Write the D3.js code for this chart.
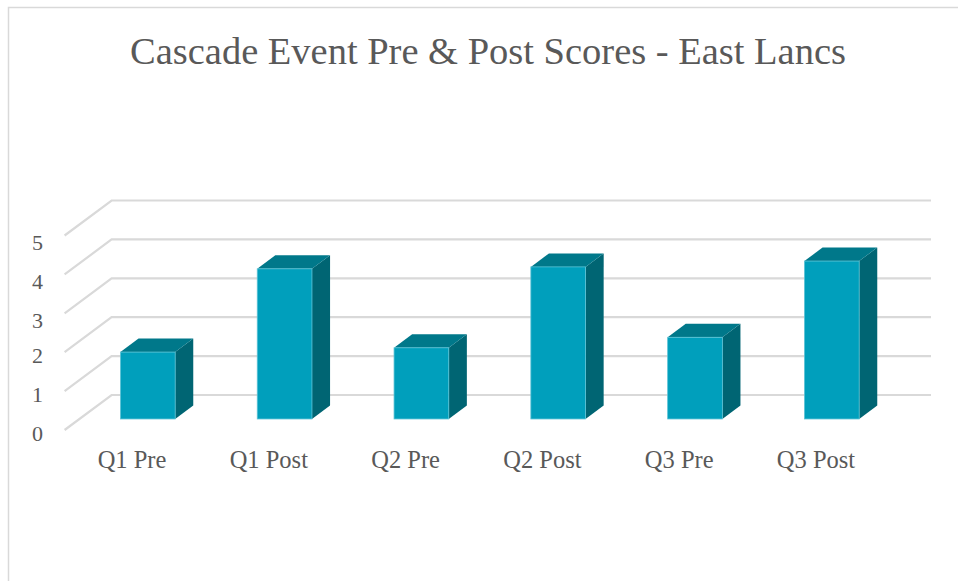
<!doctype html>
<html>
  <head>
    <meta charset="utf-8">
    <script src="https://cdn.jsdelivr.net/npm/d3@7"></script>
    <style>
      html, body { margin: 0; padding: 0; background: white; overflow: hidden; }
      text { font-family: "Liberation Serif", serif; fill: #595959; }
      .domain, .tick line { display: none; }
    </style>
  </head>
  <body>
    <svg class="chart" width="958" height="581"></svg>
    <script>
      const categories = ["Q1 Pre", "Q1 Post", "Q2 Pre", "Q2 Post", "Q3 Pre", "Q3 Post"]
      const scores = [1.72, 3.86, 1.83, 3.91, 2.1, 4.06]
      const yTicks = [0, 1, 2, 3, 4, 5]
      const title = "Cascade Event Pre & Post Scores - East Lancs"

      // floor runs from the front edge back by this much
      const depth = { x: 47, y: -35 }
      // bars sit part way into the floor
      const barNear = 0.315, barFar = 0.7

      const xScale = d3.scaleBand()
                         .domain(categories)
                         .range([64.6, 885.4])
                         .paddingInner(0.6)
                         .paddingOuter(0.3)

      const yScale = d3.scaleLinear()
                         .domain([0, 5])
                         .range([430, 235.5])

      const svg = d3.select(".chart")

      // frame, only the top and left show
      svg.append("path")
        .attr("d", "M8.5,581V7.5H958")
        .attr("fill", "none")
        .attr("stroke", "#d9d9d9")
        .attr("stroke-width", 1.5)

      svg.append("text")
        .attr("x", 488)
        .attr("y", 64)
        .attr("text-anchor", "middle")
        .attr("font-size", 38.5)
        .attr("textLength", 716)
        .attr("lengthAdjust", "spacing")
        .text(title)

      // gridlines, front edge to back wall then across
      svg.append("g").selectAll("path")
        .data(yTicks)
        .enter().append("path")
          .attr("d", (d) => {
            const [x0, x1] = xScale.range()
            return d3.line()([
              [x0, yScale(d)],
              [x0 + depth.x, yScale(d) + depth.y],
              [x1 + depth.x - 1.4, yScale(d) + depth.y]
            ])
          })
          .attr("fill", "none")
          .attr("stroke", "#d9d9d9")
          .attr("stroke-width", 2.2)

      const bars = svg.append("g").selectAll("g")
        .data(categories.map((c, i) => ({ name: c, value: scores[i] })))
        .enter().append("g")
          .attr("transform", (d) => "translate(" + (xScale(d.name) + depth.x * barNear) + "," + (depth.y * barNear) + ")")

      const w = xScale.bandwidth()
      const dx = depth.x * (barFar - barNear), dy = depth.y * (barFar - barNear)

      // side face
      bars.append("path")
        .attr("d", (d) => d3.line()([
          [w, yScale(d.value)], [w + dx, yScale(d.value) + dy],
          [w + dx, yScale(0) + dy], [w, yScale(0)]
        ]) + "Z")
        .attr("fill", "#006573")

      // top face
      bars.append("path")
        .attr("d", (d) => d3.line()([
          [0, yScale(d.value)], [dx, yScale(d.value) + dy],
          [w + dx, yScale(d.value) + dy], [w, yScale(d.value)]
        ]) + "Z")
        .attr("fill", "#00788a")

      // front face
      bars.append("rect")
        .attr("x", 0)
        .attr("y", (d) => yScale(d.value))
        .attr("width", w)
        .attr("height", (d) => yScale(0) - yScale(d.value))
        .attr("fill", "#009fbc")
        .attr("stroke", "#5cc3d6")
        .attr("stroke-width", 0.8)

      const xAxis = d3.axisBottom(xScale).tickSize(0).tickPadding(0)
      const yAxis = d3.axisLeft(yScale).tickValues(yTicks).tickFormat(d3.format("d")).tickSize(0).tickPadding(0)

      svg.append("g")
          .attr("transform", "translate(-1,451)")
          .call(xAxis)
        .selectAll("text")
          .attr("font-size", 24.5)

      // original digits are old style, 3 4 5 hang lower
      svg.append("g")
          .attr("transform", "translate(43,3)")
          .call(yAxis)
        .selectAll("text")
          .attr("font-size", 22)
          .attr("dy", (d) => d >= 3 ? "0.5em" : "0.32em")
    </script>
  </body>
</html>
